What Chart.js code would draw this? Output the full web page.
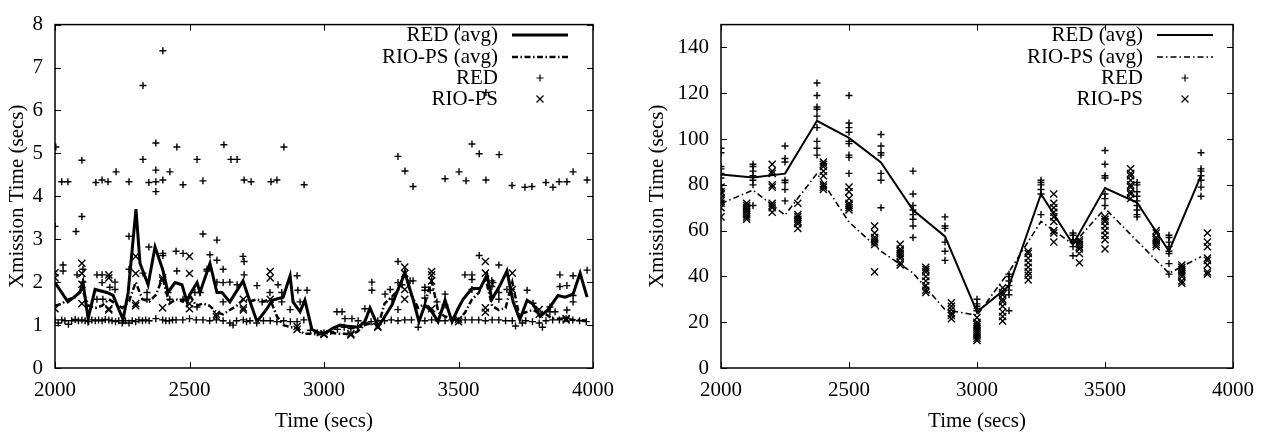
<!DOCTYPE html>
<html>
<head>
<meta charset="utf-8">
<script src="https://cdn.jsdelivr.net/npm/chart.js@4"></script>
<style>
  body { margin: 0; background: #fff; }
  #wrap { position: relative; width: 1272px; height: 437px; }
  canvas { position: absolute; top: 0; }
</style>
</head>
<body>
<div id="wrap">
  <canvas id="left" width="636" height="437" style="left:0"></canvas>
  <canvas id="right" width="636" height="437" style="left:636px"></canvas>
</div>
<script>
// ---- shared ----
const legendLabels = ["RED (avg)", "RIO-PS (avg)", "RED", "RIO-PS"];
const xTicks = [2000, 2500, 3000, 3500, 4000];
const yTicksL = [0, 1, 2, 3, 4, 5, 6, 7, 8];
const yTicksR = [0, 20, 40, 60, 80, 100, 120, 140];

// ---- left panel: [time, secs] ----
const redAvgL = [[2000,1.99],[2048,1.54],[2093,1.76],[2104,2.0],[2123,1.15],[2149,1.83],[2193,1.76],[2216,1.69],[2253,1.13],[2272,1.76],[2301,3.7],[2316,2.44],[2346,1.94],[2372,2.82],[2401,2.28],[2420,1.76],[2446,1.99],[2472,1.94],[2491,1.54],[2502,1.72],[2528,1.99],[2539,1.76],[2576,2.44],[2602,1.76],[2621,1.76],[2650,1.54],[2699,2.03],[2717,1.69],[2751,1.08],[2788,1.38],[2807,1.58],[2848,1.65],[2874,2.15],[2885,1.54],[2911,1.31],[2929,1.58],[2955,0.9],[2985,0.81],[3004,0.81],[3034,0.93],[3060,1.0],[3090,0.97],[3127,0.95],[3152,1.08],[3171,1.4],[3201,0.97],[3219,1.13],[3253,1.47],[3275,1.83],[3301,2.21],[3331,1.6],[3353,1.08],[3375,1.47],[3401,1.31],[3424,1.08],[3450,1.58],[3476,1.08],[3498,1.38],[3517,1.6],[3550,1.85],[3580,1.85],[3606,2.17],[3624,1.6],[3654,1.92],[3680,2.26],[3703,1.54],[3728,1.13],[3755,1.58],[3777,1.49],[3803,1.2],[3833,1.36],[3870,1.69],[3896,1.65],[3926,1.72],[3952,2.21],[3978,1.65]];

const rioAvgL = [[2000,1.45],[2025,1.5],[2050,1.6],[2075,1.65],[2100,1.85],[2125,1.45],[2150,1.4],[2175,1.45],[2200,1.6],[2225,1.5],[2250,1.4],[2275,1.55],[2300,2.0],[2325,1.6],[2350,1.55],[2375,1.7],[2400,2.1],[2425,1.5],[2450,1.6],[2475,1.55],[2500,1.7],[2525,1.45],[2550,1.5],[2575,1.45],[2600,1.3],[2625,1.25],[2650,1.35],[2675,1.45],[2700,1.6],[2725,1.55],[2750,1.6],[2775,1.55],[2800,1.6],[2825,1.2],[2850,1.0],[2875,0.95],[2900,0.93],[2925,0.8],[2950,0.8],[2975,0.78],[3000,0.8],[3025,0.82],[3050,0.8],[3075,0.8],[3100,0.78],[3125,0.85],[3150,1.0],[3175,1.05],[3200,0.95],[3225,1.5],[3250,1.65],[3275,1.8],[3300,2.25],[3325,1.7],[3350,1.4],[3375,1.5],[3400,2.05],[3425,1.3],[3450,1.2],[3475,1.15],[3500,1.1],[3525,1.3],[3550,1.6],[3575,1.75],[3600,2.1],[3625,1.45],[3650,1.35],[3675,1.4],[3700,2.0],[3725,1.25],[3750,1.3],[3775,1.35],[3800,1.3],[3825,1.25],[3850,1.15],[3875,1.15],[3900,1.15],[3925,1.12],[3950,1.12],[3975,1.1]];

const redBaseL = [[2000,1.12],[2012,1.05],[2025,1.12],[2037,1.1],[2050,1.02],[2062,1.1],[2075,1.13],[2087,1.1],[2100,1.12],[2112,1.1],[2125,1.08],[2137,1.12],[2150,1.1],[2162,1.12],[2175,1.1],[2187,1.13],[2200,1.12],[2212,1.1],[2225,1.08],[2237,1.1],[2250,1.05],[2262,1.1],[2275,1.05],[2287,1.1],[2300,1.08],[2312,1.12],[2325,1.1],[2337,1.12],[2350,1.1],[2375,1.15],[2400,1.12],[2412,1.1],[2425,1.1],[2437,1.12],[2450,1.12],[2475,1.12],[2500,1.15],[2525,1.12],[2550,1.12],[2575,1.1],[2600,1.12],[2625,1.1],[2650,1.05],[2662,1.0],[2675,1.1],[2700,1.12],[2712,1.08],[2725,1.1],[2750,1.05],[2775,1.1],[2800,1.1],[2825,1.08],[2850,1.1],[2875,1.08],[2900,1.08],[2925,1.12],[2950,0.88],[2975,0.82],[3000,0.82],[3025,0.85],[3050,0.9],[3075,0.95],[3100,0.92],[3125,0.95],[3150,1.05],[3175,1.08],[3200,1.1],[3225,1.1],[3250,1.12],[3275,1.1],[3300,1.12],[3325,1.12],[3350,0.95],[3375,1.1],[3400,1.12],[3425,1.1],[3450,1.1],[3475,1.12],[3500,1.1],[3525,1.12],[3550,1.12],[3575,1.12],[3600,1.1],[3625,1.12],[3650,1.12],[3675,1.1],[3700,1.1],[3712,0.98],[3737,1.05],[3750,1.1],[3775,1.08],[3800,1.05],[3812,0.95],[3825,1.1],[3850,1.12],[3875,1.12],[3900,1.15],[3925,1.12],[3950,1.1],[3975,1.08]];

const redMidL = [[2000,3.3],[2030,2.4],[2030,2.26],[2078,3.18],[2082,2.17],[2100,3.53],[2104,2.3],[2104,2.0],[2156,2.17],[2156,1.6],[2175,2.17],[2175,1.99],[2178,1.6],[2204,1.88],[2223,1.83],[2223,2.0],[2275,3.07],[2275,2.3],[2327,2.21],[2342,1.76],[2342,1.6],[2349,2.82],[2401,2.62],[2401,2.67],[2420,1.76],[2427,1.6],[2450,2.72],[2453,2.26],[2476,2.67],[2476,1.6],[2520,1.76],[2528,1.42],[2540,1.76],[2550,3.12],[2565,2.26],[2565,2.3],[2576,2.64],[2602,2.98],[2602,2.51],[2602,2.0],[2625,2.3],[2625,1.99],[2625,1.54],[2650,2.0],[2677,1.94],[2699,2.6],[2703,2.48],[2703,2.17],[2751,1.92],[2770,1.54],[2799,1.76],[2829,1.94],[2843,1.76],[2843,1.54],[2874,1.36],[2900,2.15],[2903,1.81],[2911,1.54],[2937,1.81],[3048,1.31],[3067,1.31],[3078,1.15],[3104,1.15],[3127,1.1],[3152,1.38],[3178,2.0],[3178,1.81],[3227,1.72],[3246,1.83],[3253,1.6],[3275,2.48],[3275,1.99],[3290,1.94],[3275,1.36],[3320,2.03],[3331,2.03],[3375,1.88],[3375,1.81],[3375,1.63],[3395,1.81],[3420,1.54],[3450,1.72],[3450,1.47],[3524,2.17],[3550,2.17],[3550,2.06],[3550,1.83],[3577,2.62],[3624,2.03],[3624,1.9],[3628,1.99],[3650,2.4],[3650,1.76],[3650,1.6],[3680,1.83],[3755,1.81],[3777,1.51],[3840,1.42],[3840,1.31],[3859,1.31],[3877,2.17],[3877,1.9],[3903,1.92],[3903,1.35],[3926,2.15],[3926,1.69],[3926,1.54],[3978,2.28]];

const redHighL = [[2003,5.15],[2025,4.34],[2048,4.34],[2100,4.84],[2152,4.32],[2175,4.38],[2197,4.34],[2227,4.57],[2275,4.34],[2327,6.58],[2327,4.86],[2349,4.32],[2375,5.24],[2375,4.61],[2375,4.34],[2375,4.11],[2401,7.39],[2401,4.38],[2427,4.57],[2453,5.15],[2476,4.27],[2528,4.86],[2550,4.36],[2628,5.2],[2654,4.86],[2677,4.86],[2703,4.38],[2729,4.34],[2803,4.34],[2825,4.38],[2851,5.15],[2926,4.27],[3275,4.93],[3301,4.59],[3331,4.23],[3450,4.41],[3502,4.57],[3528,4.36],[3550,5.22],[3577,4.99],[3602,4.38],[3602,6.42],[3651,4.97],[3699,4.25],[3747,4.21],[3773,4.23],[3825,4.32],[3851,4.21],[3874,4.34],[3903,4.34],[3926,4.57],[3978,4.38]];

const rioPtsL = [[2000,2.22],[2000,2.1],[2000,1.38],[2100,2.44],[2100,2.2],[2100,1.95],[2100,1.5],[2200,2.17],[2200,2.1],[2200,1.38],[2200,1.35],[2300,2.6],[2300,2.2],[2300,1.5],[2300,1.45],[2400,2.1],[2400,2.05],[2400,1.4],[2500,2.6],[2500,2.2],[2500,1.5],[2500,1.38],[2600,1.25],[2600,1.2],[2700,1.6],[2700,1.4],[2700,1.35],[2800,2.25],[2800,2.1],[2800,1.6],[2900,0.97],[2900,0.9],[3000,0.8],[3000,0.78],[3100,0.8],[3100,0.77],[3200,0.97],[3200,0.95],[3300,2.35],[3300,2.2],[3300,1.83],[3300,1.6],[3400,2.25],[3400,2.17],[3400,2.03],[3400,1.38],[3500,1.13],[3500,1.08],[3600,2.48],[3600,2.21],[3600,1.4],[3600,1.3],[3700,2.21],[3700,1.83],[3800,1.36],[3800,1.25],[3900,1.15],[3900,1.12]];

// ---- right panel ----
const avgTimesR = [2000, 2125, 2250, 2375, 2500, 2625, 2750, 2875, 3000, 3125, 3250, 3375, 3500, 3625, 3750, 3875];
const redAvgR = [84.5, 83.2, 84.9, 108, 100.5, 89.8, 69, 57.5, 24.5, 35.9, 76, 54, 78.6, 72.3, 51, 84];
const rioAvgR = [71.8, 77.7, 66.8, 85, 63.8, 51, 41.5, 25.5, 23, 42, 64, 54, 69.7, 55.5, 41.4, 48.6];

const redPtsR = [
  [96, 94, 88, 87, 85, 83, 80, 77],
  [89, 88, 86, 84, 82, 80, 71],
  [97, 91.5, 90, 82, 81, 78, 73],
  [124.5, 119, 114, 113, 110, 105, 99, 96, 93],
  [119, 107, 105, 103, 99, 98, 93, 92, 85],
  [102, 97, 94, 93, 85, 82, 70],
  [86, 76, 71, 69, 67, 65, 62, 57],
  [66, 62, 61, 55, 51, 47],
  [30, 28, 27, 26, 25],
  [41, 40, 38, 36, 34, 32, 25],
  [82, 81, 80, 78, 76, 67],
  [59, 58, 56, 55, 53, 49],
  [95, 89, 84, 83, 76, 74, 71],
  [81, 80, 77, 75, 73, 71, 69, 67, 66],
  [58, 57, 55, 53, 51, 50, 45.6, 41],
  [94, 87, 86, 84, 82, 79, 75]
];

const rioTimesR = [2000, 2100, 2200, 2300, 2400, 2500, 2600, 2700, 2800, 2900, 3000, 3100, 3200, 3300, 3400, 3500, 3600, 3700, 3800, 3900];
const rioPtsR = [
  [79, 77, 76, 74, 73, 72, 70, 66],
  [72, 71, 70, 69, 68, 67, 66, 65],
  [89, 86, 85, 80, 79, 72, 71, 70, 68],
  [72, 67, 66, 65, 64, 63, 61],
  [90, 89, 88, 86, 84, 80, 79, 78],
  [79, 77, 74, 72, 71, 70, 69],
  [62, 59, 57, 56, 55, 54, 42],
  [54, 52, 51, 50, 49, 48, 46, 45],
  [44, 43, 42, 40, 38, 36, 34, 33],
  [28.5, 27, 25.5, 24, 23, 21.5],
  [22, 20, 19, 18, 17, 16, 15, 14, 13, 12],
  [35, 33, 32, 30, 29, 27, 24.5, 22.5, 20.5],
  [51, 50, 48, 46, 44, 42, 40.5, 38.5],
  [76, 72, 70, 68, 66, 64, 60, 59, 55],
  [56, 55, 54, 53, 52, 50, 46],
  [66, 65, 64, 62, 60, 58, 56, 52],
  [87, 85, 84, 82, 80, 79, 77, 76, 74],
  [60, 59, 57, 56, 55, 54, 53],
  [45, 44, 43, 42, 41, 40, 38, 37],
  [59, 55, 53, 48, 47, 45, 42, 41]
];

// ---- helpers ----
const FONT = "'Liberation Serif', 'Times New Roman', serif";
const FSIZE = 21;

function pairs(list) {
  return list.map(p => ({ x: p[0], y: p[1] }));
}
function clusters(times, groups) {
  const out = [];
  times.forEach((t, i) => groups[i].forEach(v => out.push({ x: t, y: v })));
  return out;
}
function zipXY(xs, ys) {
  return xs.map((x, i) => ({ x: x, y: ys[i] }));
}

function drawMark(ctx, style, r, cx, cy) {
  ctx.beginPath();
  if (style === 'cross') {
    ctx.moveTo(cx - r, cy); ctx.lineTo(cx + r, cy);
    ctx.moveTo(cx, cy - r); ctx.lineTo(cx, cy + r);
  } else {
    const d = r * Math.SQRT1_2;
    ctx.moveTo(cx - d, cy - d); ctx.lineTo(cx + d, cy + d);
    ctx.moveTo(cx + d, cy - d); ctx.lineTo(cx - d, cy + d);
  }
  ctx.stroke();
}

// box + inward ticks on all four sides
const framePlugin = {
  id: 'frame',
  afterDatasetsDraw(chart) {
    const { ctx, chartArea: a, scales: { x, y } } = chart;
    const len = 6;
    ctx.save();
    ctx.strokeStyle = '#000';
    ctx.lineWidth = 1;
    ctx.beginPath();
    x.ticks.forEach(t => {
      const px = Math.round(x.getPixelForValue(t.value)) + 0.5;
      ctx.moveTo(px, a.bottom); ctx.lineTo(px, a.bottom - len);
      ctx.moveTo(px, a.top); ctx.lineTo(px, a.top + len);
    });
    y.ticks.forEach(t => {
      const py = Math.round(y.getPixelForValue(t.value)) + 0.5;
      ctx.moveTo(a.left, py); ctx.lineTo(a.left + len, py);
      ctx.moveTo(a.right, py); ctx.lineTo(a.right - len, py);
    });
    ctx.stroke();
    ctx.lineWidth = 1.5;
    ctx.strokeRect(a.left, a.top, a.right - a.left, a.bottom - a.top);
    ctx.restore();
  }
};

// gnuplot-style key: text right-aligned, sample to its right
const keyPlugin = {
  id: 'key',
  afterDraw(chart, args, opts) {
    const ctx = chart.ctx;
    ctx.save();
    ctx.font = FSIZE + 'px ' + FONT;
    ctx.fillStyle = '#000';
    ctx.strokeStyle = '#000';
    ctx.textAlign = 'right';
    ctx.textBaseline = 'middle';
    chart.data.datasets.forEach((ds, i) => {
      const y = opts.rows[i];
      ctx.fillText(legendLabels[i], opts.textRight, y);
      if (ds.showLine) {
        ctx.lineWidth = ds.borderWidth;
        ctx.setLineDash(ds.borderDash || []);
        ctx.beginPath();
        ctx.moveTo(opts.lineFrom, y);
        ctx.lineTo(opts.lineTo, y);
        ctx.stroke();
        ctx.setLineDash([]);
      } else {
        ctx.lineWidth = 1.2;
        drawMark(ctx, ds.pointStyle, ds.pointRadius, (opts.lineFrom + opts.lineTo) / 2, y);
      }
    });
    ctx.restore();
  }
};

function makeOptions(yMax, yTicks, yWidth, pad, key) {
  const font = { family: FONT, size: FSIZE };
  return {
    responsive: false,
    animation: false,
    layout: { padding: pad },
    plugins: {
      legend: { display: false },
      tooltip: { enabled: false },
      key: key
    },
    scales: {
      x: {
        type: 'linear', min: 2000, max: 4000,
        afterBuildTicks: s => { s.ticks = xTicks.map(v => ({ value: v })); },
        afterFit: s => { s.height = 69; },
        grid: { display: false, drawTicks: false },
        border: { display: false },
        ticks: { color: '#000', font: font, padding: 10, maxRotation: 0, autoSkip: false, callback: v => String(v) },
        title: { display: true, text: 'Time (secs)', color: '#000', font: font, padding: { top: 3, bottom: 3 } }
      },
      y: {
        type: 'linear', min: 0, max: yMax,
        afterBuildTicks: s => { s.ticks = yTicks.map(v => ({ value: v })); },
        afterFit: s => { s.width = yWidth; },
        grid: { display: false, drawTicks: false },
        border: { display: false },
        ticks: { color: '#000', font: font, padding: 12, autoSkip: false, callback: v => String(v) },
        title: { display: true, text: 'Xmission Time (secs)', color: '#000', font: font, padding: { top: key.titlePad, bottom: 0 } }
      }
    }
  };
}

function makeDatasets(redAvg, rioAvg, redPts, rioPts, avgW, dashW, dash) {
  const pt = { showLine: false, borderColor: '#000', pointBorderColor: '#000', pointBorderWidth: 1.4 };
  return [
    { data: redAvg, showLine: true, borderColor: '#000', borderWidth: avgW, pointRadius: 0, tension: 0, order: 3 },
    { data: rioAvg, showLine: true, borderColor: '#000', borderWidth: dashW, borderDash: dash, pointRadius: 0, tension: 0, order: 2 },
    Object.assign({ data: redPts, pointStyle: 'cross', pointRadius: 3.5, order: 1 }, pt),
    Object.assign({ data: rioPts, pointStyle: 'crossRot', pointRadius: 5, order: 0 }, pt)
  ];
}

new Chart(document.getElementById('left'), {
  type: 'scatter',
  data: {
    datasets: makeDatasets(
      pairs(redAvgL), pairs(rioAvgL),
      pairs(redBaseL.concat(redMidL, redHighL)), pairs(rioPtsL),
      3, 2.5, [6, 2.5, 1.5, 2.5])
  },
  options: makeOptions(8, yTicksL, 55, { left: 0, top: 14, right: 43, bottom: 0 },
    { textRight: 498, lineFrom: 512, lineTo: 568, rows: [35, 57, 78, 99], titlePad: 5 }),
  plugins: [framePlugin, keyPlugin]
});

new Chart(document.getElementById('right'), {
  type: 'scatter',
  data: {
    datasets: makeDatasets(
      zipXY(avgTimesR, redAvgR), zipXY(avgTimesR, rioAvgR),
      clusters(avgTimesR, redPtsR), clusters(rioTimesR, rioPtsR),
      2, 1.6, [6, 3, 1.5, 3])
  },
  options: makeOptions(150, yTicksR, 85, { left: 0, top: 13, right: 39, bottom: 0 },
    { textRight: 507, lineFrom: 521, lineTo: 577, rows: [35, 57, 78, 99], titlePad: 9 }),
  plugins: [framePlugin, keyPlugin]
});
</script>
</body>
</html>
